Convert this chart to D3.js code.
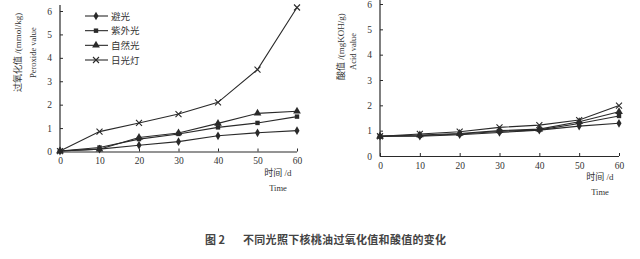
<!DOCTYPE html>
<meta charset="utf-8">
<script src="https://d3js.org/d3.v7.min.js"></script>
<style>
body { margin: 0; background: #fff; }
text { font-family: "Liberation Serif", "Noto Sans CJK SC", serif; fill: #333; }
.cap { font-family: "Noto Sans CJK SC", sans-serif; font-weight: bold; font-size: 11px; fill: #444; }
</style>
<div id="chart"></div>
<script>
// days on the x axis
var days = [0, 10, 20, 30, 40, 50, 60];
var yTicks = [0, 1, 2, 3, 4, 5, 6];
var seriesNames = ["避光", "紫外光", "自然光", "日光灯"];
var markers = ["diamond", "square", "triangle", "cross"];

// peroxide value (mmol/kg)
var pvDark    = [0.02, 0.10, 0.27, 0.42, 0.67, 0.80, 0.89];
var pvUV      = [0.02, 0.17, 0.53, 0.75, 1.03, 1.22, 1.49];
var pvNatural = [0.02, 0.10, 0.60, 0.79, 1.20, 1.63, 1.72];
var pvLamp    = [0.02, 0.85, 1.22, 1.60, 2.10, 3.50, 6.15];

// acid value (mgKOH/g)
var avDark    = [0.78, 0.78, 0.84, 0.93, 1.02, 1.18, 1.29];
var avUV      = [0.78, 0.80, 0.87, 0.97, 1.03, 1.28, 1.58];
var avNatural = [0.78, 0.83, 0.89, 1.00, 1.06, 1.35, 1.75];
var avLamp    = [0.78, 0.87, 0.96, 1.13, 1.22, 1.42, 1.99];

var W = 640, H = 259;
var svg = d3.select("#chart").append("svg")
    .attr("width", W).attr("height", H);

var ink = "#2a2a2a";

function drawMarker(g, type, x, y) {
  if (type === "diamond") {
    g.append("path").attr("d", d3.symbol().type(d3.symbolDiamond).size(22)())
      .attr("transform", "translate(" + x + "," + y + ")").attr("fill", ink);
  } else if (type === "square") {
    g.append("rect").attr("x", x - 2.2).attr("y", y - 2.2).attr("width", 4.4).attr("height", 4.4).attr("fill", ink);
  } else if (type === "triangle") {
    g.append("path").attr("d", d3.symbol().type(d3.symbolTriangle).size(26)())
      .attr("transform", "translate(" + x + "," + y + ")").attr("fill", ink);
  } else {
    g.append("path").attr("d", "M-3,-3L3,3M-3,3L3,-3")
      .attr("transform", "translate(" + x + "," + y + ")")
      .attr("stroke", ink).attr("stroke-width", 1.1).attr("fill", "none");
  }
}

function panel(opt) {
  var g = svg.append("g");
  var x = d3.scaleLinear().domain([0, 60]).range([opt.x0, opt.x1]);
  var y = d3.scaleLinear().domain([0, 6]).range([opt.y0, opt.y1]);

  // x axis
  var xa = g.append("g").attr("transform", "translate(0," + opt.y0 + ")")
    .call(d3.axisBottom(x).tickValues(days).tickFormat(d3.format("d")).tickSize(-3).tickPadding(6));
  // y axis
  var ya = g.append("g").attr("transform", "translate(" + opt.x0 + ",0)")
    .call(d3.axisLeft(y).tickValues(yTicks).tickFormat(d3.format("d")).tickSize(-3).tickPadding(8));
  [xa, ya].forEach(function(a) {
    a.select(".domain").remove();
    a.selectAll("line").attr("stroke", ink);
    a.selectAll("text").style("font-size", "9.5px").attr("fill", "#333");
  });
  g.append("line").attr("x1", opt.x0).attr("x2", opt.x1)
    .attr("y1", opt.y0 + 0.5).attr("y2", opt.y0 + 0.5).attr("stroke", ink).attr("stroke-width", 1.2);
  g.append("line").attr("x1", opt.x0).attr("x2", opt.x0)
    .attr("y1", opt.y0 + 0.5).attr("y2", opt.yTop).attr("stroke", ink).attr("stroke-width", 1.2);

  var line = d3.line().x(function(d, i) { return x(days[i]); }).y(function(d) { return y(d); });
  opt.series.forEach(function(s, k) {
    g.append("path").datum(s).attr("d", line)
      .attr("fill", "none").attr("stroke", ink).attr("stroke-width", 1.1);
    s.forEach(function(v, i) { drawMarker(g, markers[k], x(days[i]), y(v)); });
  });

  // axis titles
  g.append("text").attr("transform", "translate(" + opt.tx1 + "," + opt.ty1 + ") rotate(-90)")
    .style("font-size", "9px").text(opt.title1);
  g.append("text").attr("transform", "translate(" + opt.tx2 + "," + opt.ty2 + ") rotate(-90)")
    .style("font-size", "8.5px").text(opt.title2);
  g.append("text").attr("x", opt.x1 - 19).attr("y", opt.y0 + 24).attr("text-anchor", "middle")
    .style("font-size", "9px").text("时间 /d");
  g.append("text").attr("x", opt.x1 - 19).attr("y", opt.y0 + 39).attr("text-anchor", "middle")
    .style("font-size", "8.5px").text("Time");
  return g;
}

panel({
  x0: 60, x1: 297, y0: 151.5, y1: 11, yTop: 5,
  series: [pvDark, pvUV, pvNatural, pvLamp],
  title1: "过氧化值 /(mmol/kg)", tx1: 21, ty1: 92,
  title2: "Peroxide value", tx2: 36, ty2: 78
});

panel({
  x0: 380, x1: 619, y0: 156, y1: 4, yTop: 0,
  series: [avDark, avUV, avNatural, avLamp],
  title1: "酸值 /(mgKOH/g)", tx1: 344, ty1: 80,
  title2: "Acid value", tx2: 356, ty2: 70
});

// legend
var lg = svg.append("g");
var legendY = d3.scalePoint().domain(seriesNames).range([16, 60]);
seriesNames.forEach(function(n, k) {
  var yy = legendY(n);
  lg.append("line").attr("x1", 85).attr("x2", 108).attr("y1", yy).attr("y2", yy)
    .attr("stroke", ink).attr("stroke-width", 1.1);
  drawMarker(lg, markers[k], 96, yy);
  lg.append("text").attr("x", 111).attr("y", yy + 3.5).style("font-size", "9.5px").text(n);
});

// caption
svg.append("text").attr("class", "cap").attr("x", 205).attr("y", 244).text("图 2");
svg.append("text").attr("class", "cap").attr("x", 243).attr("y", 244)
  .style("letter-spacing", "0.3px").text("不同光照下核桃油过氧化值和酸值的变化");
</script>
